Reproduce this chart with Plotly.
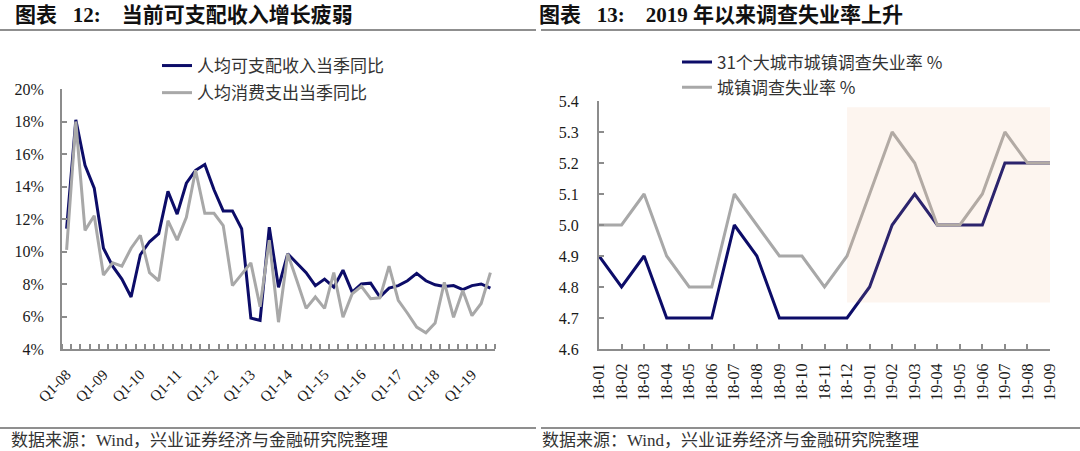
import plotly.graph_objects as go

# ---------------- data: left chart ----------------
quarters = [f"Q{q}-{y:02d}" for y in range(8, 20) for q in (1, 2, 3, 4)][:47]
left_ticktext = ["Q1-08", "Q1-09", "Q1-10", "Q1-11", "Q1-12", "Q1-13",
                 "Q1-14", "Q1-15", "Q1-16", "Q1-17", "Q1-18", "Q1-19"]
income_yoy = [11.4, 18.1, 15.3, 13.9, 10.2, 9.1, 8.3, 7.2, 9.8, 10.6, 11.1, 13.7,
              12.3, 14.2, 15.0, 15.35, 13.8, 12.5, 12.5, 11.4, 5.9, 5.76, 11.5, 7.8,
              9.86, 9.3, 8.7, 7.9, 8.3, 7.8, 8.85, 7.5, 8.0, 8.05, 7.2, 7.75,
              7.9, 8.2, 8.65, 8.2, 7.95, 7.85, 7.9, 7.65, 7.9, 8.0, 7.75]
consumption_yoy = [10.1, 18.0, 11.3, 12.2, 8.55, 9.3, 9.1, 10.2, 11.0, 8.7, 8.2, 11.9,
                   10.7, 12.1, 15.0, 12.35, 12.35, 11.6, 7.9, 8.6, 9.3, 6.6, 10.7, 5.65,
                   9.86, 8.2, 6.5, 7.2, 6.5, 8.7, 5.95, 7.4, 7.85, 7.1, 7.15, 9.1,
                   7.0, 6.2, 5.35, 5.0, 5.6, 8.1, 5.95, 7.6, 6.05, 6.8, 8.7]

# ---------------- data: right chart ----------------
months = ["18-01", "18-02", "18-03", "18-04", "18-05", "18-06", "18-07", "18-08",
          "18-09", "18-10", "18-11", "18-12", "19-01", "19-02", "19-03", "19-04",
          "19-05", "19-06", "19-07", "19-08", "19-09"]
unemp_31cities = [4.9, 4.8, 4.9, 4.7, 4.7, 4.7, 5.0, 4.9, 4.7, 4.7, 4.7, 4.7,
                  4.8, 5.0, 5.1, 5.0, 5.0, 5.0, 5.2, 5.2, 5.2]
unemp_urban = [5.0, 5.0, 5.1, 4.9, 4.8, 4.8, 5.1, 5.0, 4.9, 4.9, 4.8, 4.9,
               5.1, 5.3, 5.2, 5.0, 5.0, 5.1, 5.3, 5.2, 5.2]
highlight_start = "18-12"

NAVY = "#0c0c68"
GRAY = "#a8a8a8"
AXIS = "#8c8c8c"
FONT = "Liberation Serif, Noto Sans CJK SC, serif"
CJK = "Noto Sans CJK SC, Liberation Serif, sans-serif"

W, H = 1080, 451
def px(x):
    return x / W
def py(y):
    return 1 - y / H

fig = go.Figure()

left_x = list(range(len(quarters)))
fig.add_trace(go.Scatter(x=left_x, y=income_yoy, mode="lines", name="人均可支配收入当季同比",
                         line=dict(color=NAVY, width=3), xaxis="x", yaxis="y",
                         legend="legend", legendgroup="a"))
fig.add_trace(go.Scatter(x=left_x, y=consumption_yoy, mode="lines", name="人均消费支出当季同比",
                         line=dict(color=GRAY, width=3), xaxis="x", yaxis="y",
                         legend="legend", legendgroup="b"))

right_x = list(range(len(months)))
fig.add_trace(go.Scatter(x=right_x, y=unemp_31cities, mode="lines", name="31个大城市城镇调查失业率 %",
                         line=dict(color=NAVY, width=3), xaxis="x2", yaxis="y2",
                         legend="legend2", legendgroup="c"))
fig.add_trace(go.Scatter(x=right_x, y=unemp_urban, mode="lines", name="城镇调查失业率 %",
                         line=dict(color=GRAY, width=3), xaxis="x2", yaxis="y2",
                         legend="legend2", legendgroup="d"))

tickfont = dict(family=FONT, size=16, color="#1a1a1a")

fig.update_layout(
    width=W, height=H,
    margin=dict(l=0, r=0, t=0, b=0, autoexpand=False),
    paper_bgcolor="white", plot_bgcolor="rgba(0,0,0,0)",
    showlegend=True,
    xaxis=dict(domain=[px(62), px(495)], range=[-0.5, len(quarters) - 0.5],
               tickmode="array", tickvals=[quarters.index(t) for t in left_ticktext],
               ticktext=left_ticktext, tickangle=-45, ticks="", showgrid=False,
               showline=True, linecolor=AXIS, linewidth=2, zeroline=False,
               ticklabelstandoff=9, automargin=False,
               tickfont=dict(family=FONT, size=15, color="#1a1a1a"),
               minor=dict(tickmode="array",
                          tickvals=[i - 0.5 for i in range(len(quarters) + 1)],
                          ticks="inside", ticklen=5, tickwidth=1.5, tickcolor=AXIS,
                          showgrid=False),
               anchor="y"),
    yaxis=dict(domain=[py(349), py(89)], range=[4, 20], dtick=2, ticksuffix="%",
               ticks="inside", ticklen=5, tickwidth=1.5, tickcolor=AXIS,
               showline=True, linecolor=AXIS, linewidth=2, showgrid=False, zeroline=False,
               ticklabelstandoff=13, automargin=False,
               tickfont=tickfont, anchor="x"),
    xaxis2=dict(domain=[px(599), px(1050)], range=[0, len(months) - 1],
                tickmode="array", tickvals=right_x, ticktext=months, tickangle=-90,
                ticks="inside", ticklen=5, tickwidth=1.5, tickcolor=AXIS,
                showline=True, linecolor=AXIS, linewidth=2, showgrid=False, zeroline=False,
                ticklabelstandoff=6, automargin=False,
                tickfont=dict(family=FONT, size=16, color="#1a1a1a"), anchor="y2"),
    yaxis2=dict(domain=[py(349), py(101)], range=[4.6, 5.4], dtick=0.1, tickformat=".1f",
                ticks="inside", ticklen=5, tickwidth=1.5, tickcolor=AXIS,
                showline=True, linecolor=AXIS, linewidth=2, showgrid=False, zeroline=False,
                ticklabelstandoff=15, automargin=False,
                tickfont=tickfont, anchor="x2"),
    legend=dict(x=px(157), y=py(48), xanchor="left", yanchor="top",
                bgcolor="rgba(0,0,0,0)", tracegroupgap=2,
                font=dict(family=CJK, size=17, color="#333333")),
    legend2=dict(x=px(677), y=py(44.5), xanchor="left", yanchor="top",
                 bgcolor="rgba(0,0,0,0)", tracegroupgap=0,
                 font=dict(family=CJK, size=17, color="#333333")),
)

# highlight zone for 2019
fig.add_shape(type="rect", xref="x2", yref="y2",
              x0=months.index(highlight_start), x1=len(months) - 1 + 0.22,
              y0=4.75, y1=5.38, fillcolor="rgba(240,186,140,0.14)",
              line=dict(width=0), layer="above")

# title and footer rules
for x0, x1 in ((0, 536), (541, 1080)):
    fig.add_shape(type="line", xref="paper", yref="paper", x0=px(x0), x1=px(x1),
                  y0=py(30), y1=py(30), line=dict(color="#6a6a6a", width=1.5))
    fig.add_shape(type="line", xref="paper", yref="paper", x0=px(x0), x1=px(x1),
                  y0=py(428), y1=py(428), line=dict(color="#6a6a6a", width=1.5))

titles = [("图表\u2002 12:\u2003当前可支配收入增长疲弱", 13),
          ("图表\u2002 13:\u20032019 年以来调查失业率上升", 537)]
for text, x in titles:
    fig.add_annotation(text=f"<b>{text}</b>", xref="paper", yref="paper", x=px(x), y=py(15),
                       xanchor="left", yanchor="middle", showarrow=False,
                       font=dict(family=FONT, size=21, color="#111111"))

for x in (9, 540):
    fig.add_annotation(text="数据来源：Wind，兴业证券经济与金融研究院整理", xref="paper", yref="paper",
                       x=px(x), y=py(440), xanchor="left", yanchor="middle", showarrow=False,
                       font=dict(family=FONT, size=17, color="#333333"))

fig.write_html("out.html", config={"displayModeBar": False},
               post_script="document.body.style.margin='0px';")
